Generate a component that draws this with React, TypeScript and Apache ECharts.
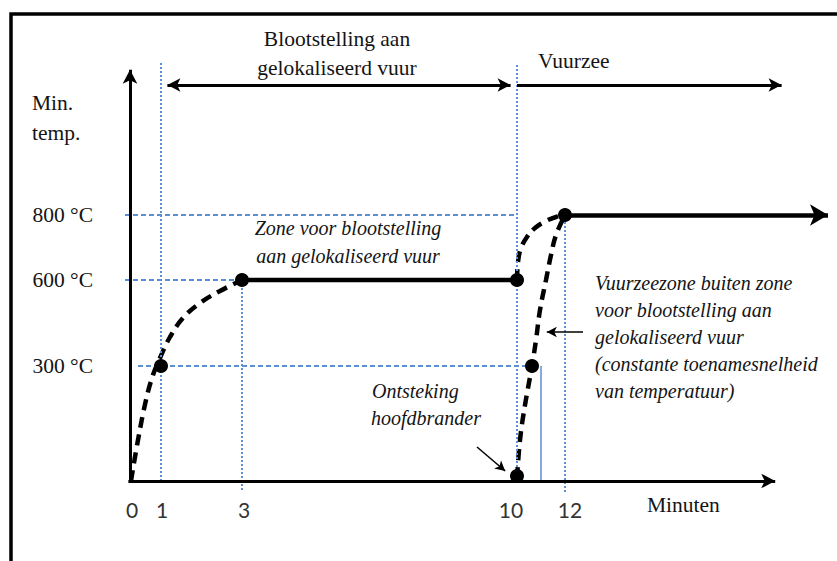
import React, { useEffect, useRef } from "react";
import * as echarts from "echarts";

// The reference is a schematic (not to scale). Positions are schematic units along each axis.
// Time axis: tick labels and their schematic positions
const minuteLabels = ["0", "1", "3", "10", "12"];
const minuteTickPos = [0.05, 0.8, 2.85, 9.525, 11.0];
// Event times 1, 3, 10, 12 min (guide lines)
const eventPos = [0.775, 2.8, 9.675, 10.875];
// Temperature levels
const tempLabels = ["300 °C", "600 °C", "800 °C"];
const tempPos = [2.875, 5.025, 6.65];

// Curve: localised fire exposure (0 -> 3 min, reaching 600 °C)
const localCurveX = [0.025, 0.2, 0.4, 0.575, 0.75, 1.0, 1.325, 1.75, 2.25, 2.8];
const localCurveY = [0, 1.025, 2.025, 2.65, 3.075, 3.6, 4.075, 4.45, 4.75, 5.025];
// Curve: from 600 °C at 10 min up to 800 °C at 12 min
const upperCurveX = [9.675, 9.7, 9.775, 9.925, 10.125, 10.4, 10.65, 10.875];
const upperCurveY = [5.025, 5.475, 5.825, 6.1, 6.325, 6.5, 6.6, 6.65];
// Curve: from main burner ignition at 10 min up to 800 °C at 12 min
const lowerCurveX = [9.675, 9.75, 9.875, 10.05, 10.15, 10.25, 10.4, 10.525, 10.65, 10.875];
const lowerCurveY = [0.075, 1.025, 1.9, 2.875, 3.525, 4.275, 5.025, 5.65, 6.15, 6.65];
// Key points (dots)
const dotX = [0.775, 2.8, 9.675, 9.675, 10.05, 10.875];
const dotY = [2.875, 5.025, 5.025, 0.125, 2.875, 6.65];

const pairs = (xs: number[], ys: number[]) => xs.map((x, i) => [x, ys[i]]);

const SERIF_NAME = "Liberation Serif";
const BLUE = "#5b8fd1";

function labelFor(values: number[], labels: string[], v: number) {
  const i = values.findIndex((p) => Math.abs(p - v) < 1e-6);
  return i >= 0 ? labels[i] : "";
}

function seg(a: number[], b: number[]) {
  return [{ coord: a }, { coord: b }];
}

function buildOption(): any {
  const xMin = -0.25;
  const xMax = 17.675;
  const yMin = -0.35;
  const yMax = 10.45;
  const guideTop = 10.45;
  const arrowY = 9.9;

  const blackDashed = { color: "#000", width: 4.5, type: [11, 7] as any };
  const blackSolid = { color: "#000", width: 4.5, type: "solid" };

  const txt = (
    text: string,
    x: number,
    y: number,
    opts: { italic?: boolean; align?: string; size?: number } = {}
  ) => {
    const size = opts.size ?? (opts.italic ? 20 : 21.5);
    return {
      type: "text",
      x,
      y,
      silent: true,
      z: 10,
      style: {
        text,
        fill: "#141414",
        font: `${opts.italic ? "italic " : ""}${size}px "${SERIF_NAME}", serif`,
        align: opts.align ?? "left",
        verticalAlign: "middle",
      },
    };
  };

  return {
    animation: false,
    backgroundColor: "#fff",
    grid: { left: 120, right: 0, top: 63, bottom: 66, containLabel: false },
    xAxis: {
      type: "value",
      min: xMin,
      max: xMax,
      axisLine: { show: false },
      axisTick: { show: false },
      splitLine: { show: false },
      axisLabel: {
        customValues: minuteTickPos,
        formatter: (v: number) => labelFor(minuteTickPos, minuteLabels, v),
        fontFamily: "Lato, 'Open Sans', sans-serif",
        fontSize: 21,
        color: "#333",
        margin: 4,
        showMinLabel: true,
        showMaxLabel: true,
      },
    },
    yAxis: {
      type: "value",
      min: yMin,
      max: yMax,
      axisLine: { show: false },
      axisTick: { show: false },
      splitLine: { show: false },
      axisLabel: {
        customValues: tempPos,
        formatter: (v: number) => labelFor(tempPos, tempLabels, v),
        fontFamily: SERIF_NAME,
        fontSize: 21.5,
        color: "#141414",
        margin: 27,
      },
    },
    graphic: [
      {
        type: "rect",
        silent: true,
        z: 0,
        shape: { x: 11, y: 14, width: 1000, height: 700 },
        style: { fill: "none", stroke: "#000", lineWidth: 3.5 },
      },
      txt("Blootstelling aan", 337, 39, { align: "center" }),
      txt("gelokaliseerd vuur", 337, 68, { align: "center" }),
      txt("Vuurzee", 538, 61),
      txt("Min.", 32, 103),
      txt("temp.", 32, 133),
      txt("Minuten", 647, 505),
      txt("Zone voor blootstelling", 348, 228, { italic: true, align: "center" }),
      txt("aan gelokaliseerd vuur", 348, 256, { italic: true, align: "center" }),
      txt("Vuurzeezone buiten zone", 595, 283, { italic: true }),
      txt("voor blootstelling aan", 595, 310, { italic: true }),
      txt("gelokaliseerd vuur", 595, 337, { italic: true }),
      txt("(constante toenamesnelheid", 595, 364, { italic: true }),
      txt("van temperatuur)", 595, 391, { italic: true }),
      txt("Ontsteking", 372, 391, { italic: true }),
      txt("hoofdbrander", 371, 418, { italic: true }),
    ],
    series: [
      // blue dotted vertical guides
      {
        type: "line",
        data: [],
        z: 1,
        silent: true,
        markLine: {
          silent: true,
          symbol: ["none", "none"],
          label: { show: false },
          lineStyle: { color: BLUE, width: 2, type: [2, 2] },
          data: [
            seg([eventPos[0], 0], [eventPos[0], guideTop]),
            seg([eventPos[1], -0.225], [eventPos[1], tempPos[1]]),
            seg([eventPos[2], -0.05], [eventPos[2], guideTop]),
            seg([eventPos[3], -0.275], [eventPos[3], tempPos[2]]),
          ],
        },
      },
      // blue dashed horizontal guides
      {
        type: "line",
        data: [],
        z: 1,
        silent: true,
        markLine: {
          silent: true,
          symbol: ["none", "none"],
          label: { show: false },
          lineStyle: { color: BLUE, width: 2, type: [5, 3] },
          data: [
            seg([-0.125, tempPos[2]], [eventPos[2], tempPos[2]]),
            seg([-0.125, tempPos[1]], [eventPos[1], tempPos[1]]),
            seg([0.2, tempPos[0]], [dotX[4], tempPos[0]]),
          ],
        },
      },
      // blue solid thin line
      {
        type: "line",
        data: [],
        z: 1,
        silent: true,
        markLine: {
          silent: true,
          symbol: ["none", "none"],
          label: { show: false },
          lineStyle: { color: BLUE, width: 1.5, type: "solid" },
          data: [seg([10.275, 0], [10.275, tempPos[0]])],
        },
      },
      // axes
      {
        type: "line",
        data: [],
        z: 4,
        silent: true,
        markLine: {
          silent: true,
          symbol: ["none", "arrow"],
          symbolSize: [11, 14],
          label: { show: false },
          lineStyle: { color: "#000", width: 3, type: "solid" },
          data: [seg([-0.04, 0], [16.13, 0]), seg([0, -0.04], [0, 10.28])],
        },
      },
      // top span arrows
      {
        type: "line",
        data: [],
        z: 4,
        silent: true,
        markLine: {
          silent: true,
          symbol: ["arrow", "arrow"],
          symbolSize: [10, 13],
          label: { show: false },
          lineStyle: { color: "#000", width: 3, type: "solid" },
          data: [
            seg([eventPos[0] + 0.16, arrowY], [eventPos[2] - 0.16, arrowY]),
          ],
        },
      },
      {
        type: "line",
        data: [],
        z: 4,
        silent: true,
        markLine: {
          silent: true,
          symbol: ["none", "arrow"],
          symbolSize: [10, 13],
          label: { show: false },
          lineStyle: { color: "#000", width: 3, type: "solid" },
          data: [seg([eventPos[2], arrowY], [16.29, arrowY])],
        },
      },
      // annotation arrows
      {
        type: "line",
        data: [],
        z: 4,
        silent: true,
        markLine: {
          silent: true,
          symbol: ["none", "arrow"],
          symbolSize: [8, 10],
          label: { show: false },
          lineStyle: { color: "#000", width: 1.5, type: "solid" },
          data: [
            seg([8.675, 0.85], [9.38, 0.25]),
            seg([11.325, 3.725], [10.42, 3.725]),
          ],
        },
      },
      // curves
      {
        type: "line",
        name: "Gelokaliseerd vuur",
        data: pairs(localCurveX, localCurveY),
        smooth: 0.4,
        symbol: "none",
        z: 3,
        clip: false,
        lineStyle: blackDashed,
      },
      {
        type: "line",
        name: "Plateau 600 °C",
        data: [
          [eventPos[1], tempPos[1]],
          [eventPos[2], tempPos[1]],
        ],
        symbol: "none",
        z: 3,
        lineStyle: blackSolid,
      },
      {
        type: "line",
        name: "Overgang 600-800",
        data: pairs(upperCurveX, upperCurveY),
        smooth: 0.4,
        symbol: "none",
        z: 3,
        lineStyle: blackDashed,
      },
      {
        type: "line",
        name: "Vuurzee",
        data: pairs(lowerCurveX, lowerCurveY),
        smooth: 0.4,
        symbol: "none",
        z: 3,
        lineStyle: blackDashed,
      },
      {
        type: "line",
        data: [],
        z: 3,
        silent: true,
        markLine: {
          silent: true,
          symbol: ["none", "arrow"],
          symbolSize: [16, 18],
          label: { show: false },
          lineStyle: { color: "#000", width: 4.5, type: "solid" },
          data: [seg([eventPos[3], tempPos[2]], [17.45, tempPos[2]])],
        },
      },
      {
        type: "scatter",
        data: pairs(dotX, dotY),
        symbol: "circle",
        symbolSize: 14,
        z: 6,
        silent: true,
        itemStyle: { color: "#000", opacity: 1 },
      },
    ],
  };
}

export default function App() {
  const ref = useRef<HTMLDivElement>(null);
  useEffect(() => {
    if (!ref.current) return;
    const chart = echarts.init(ref.current, null, { renderer: "svg" });
    chart.setOption(buildOption());
    return () => chart.dispose();
  }, []);
  return (
    <div
      ref={ref}
      style={{
        position: "fixed",
        left: 0,
        top: 0,
        width: 837,
        height: 561,
        background: "#fff",
      }}
    />
  );
}
